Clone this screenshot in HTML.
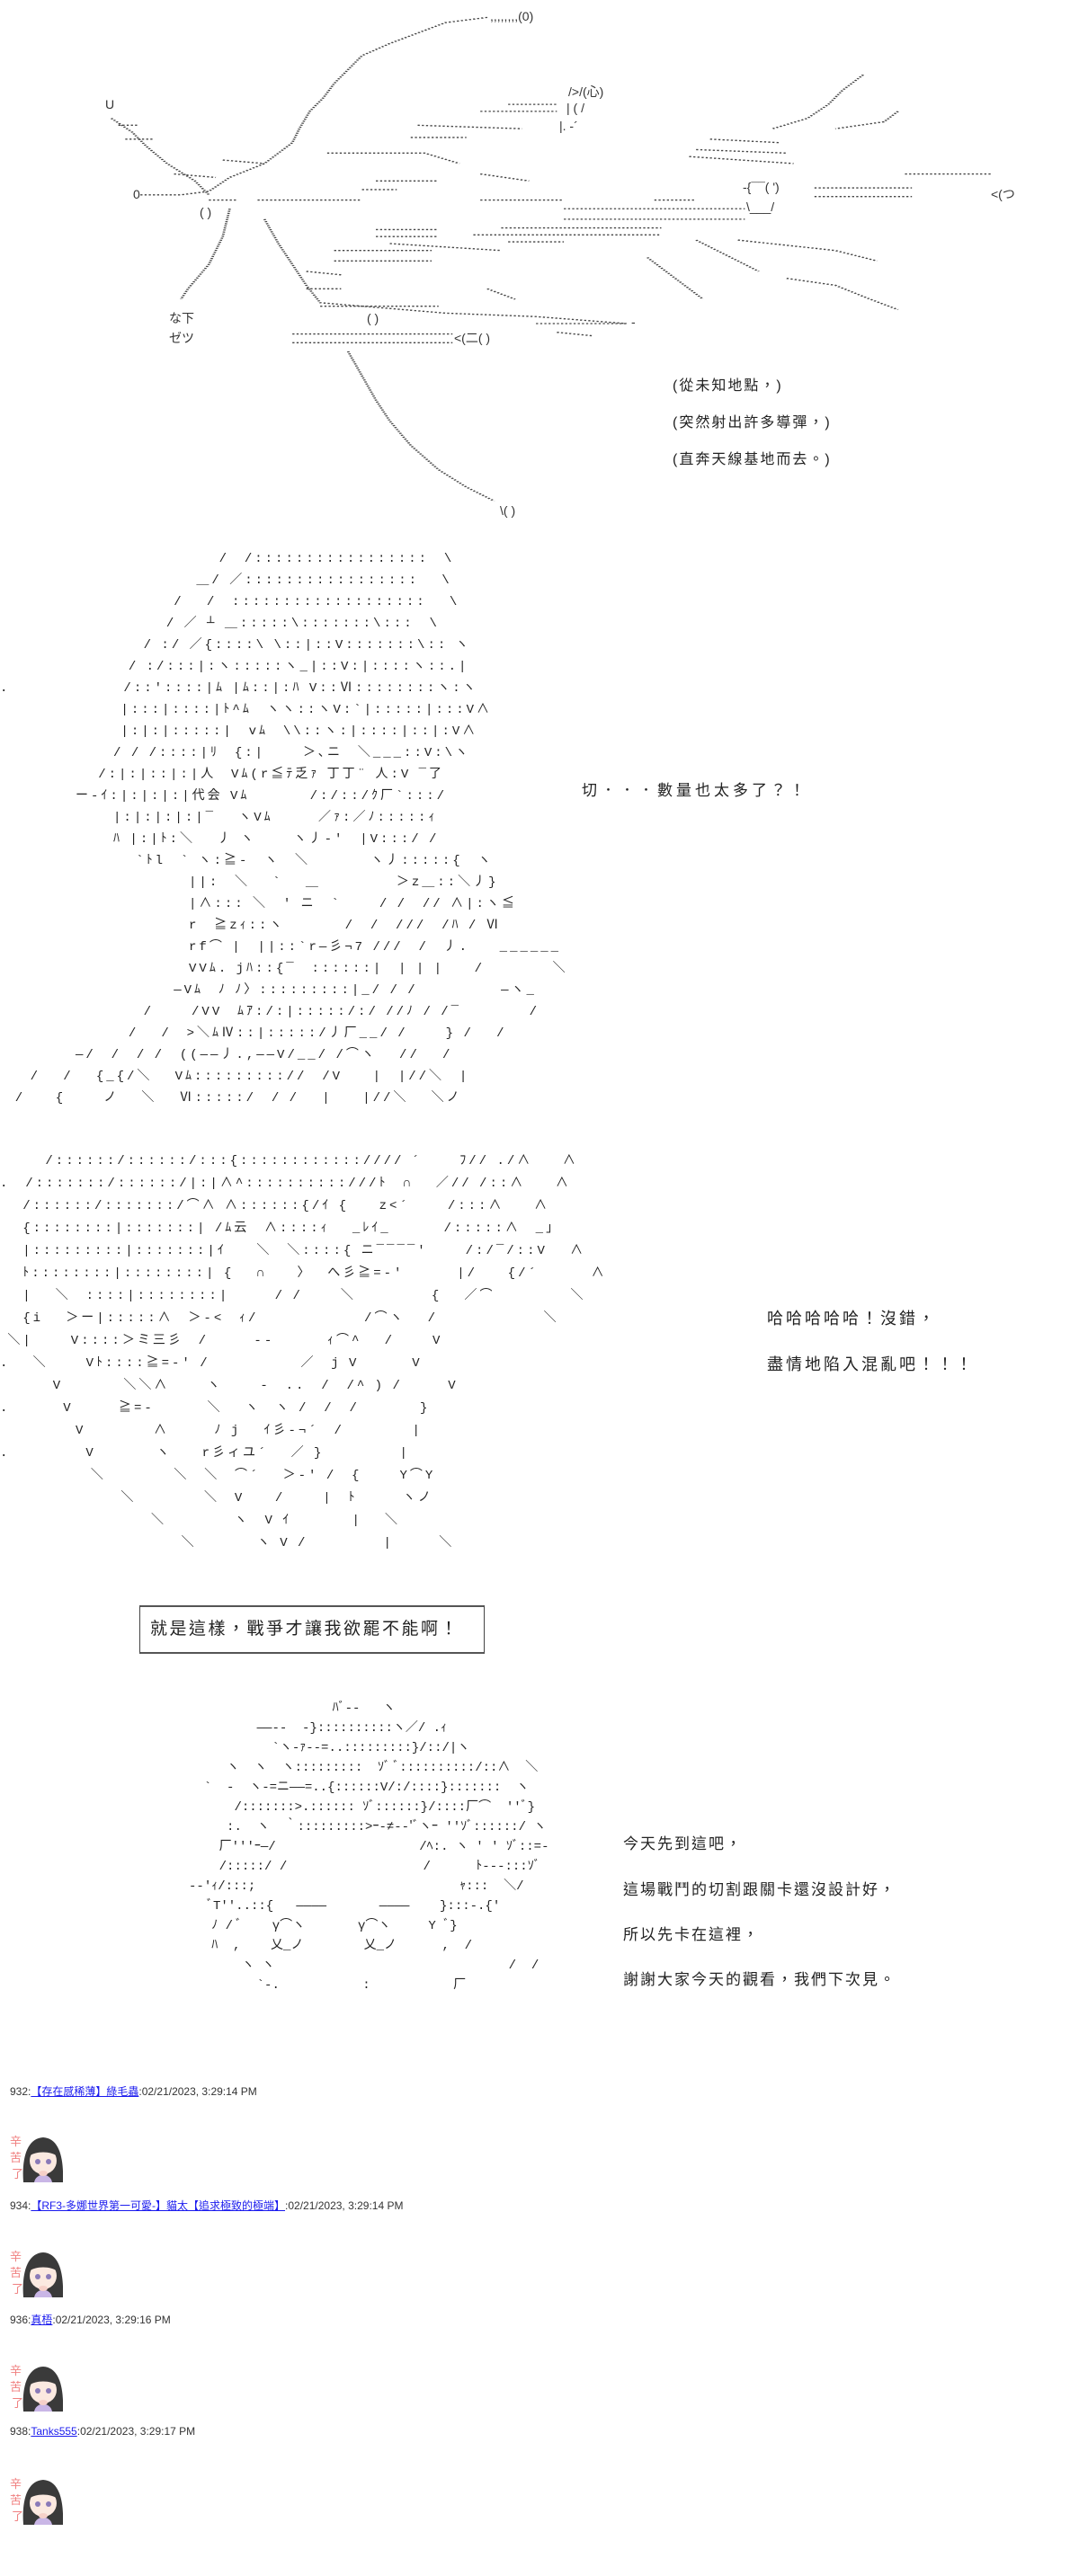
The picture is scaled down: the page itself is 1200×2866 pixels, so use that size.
<!DOCTYPE html>
<html><head><meta charset="utf-8">
<style>
html,body{margin:0;padding:0;background:#fff;}
body{width:1200px;height:2866px;position:relative;overflow:hidden;font-family:"Liberation Sans","Noto Sans CJK TC",sans-serif;color:#222;}
.t{position:absolute;font-size:18px;letter-spacing:2px;white-space:nowrap;line-height:1;}
.aa{position:absolute;white-space:pre;font-family:"Liberation Mono","Noto Sans CJK JP",monospace;font-size:14px;color:#222;margin:0;}
.wide{letter-spacing:3px;word-spacing:-3px;}
.s{position:absolute;font-size:14px;white-space:nowrap;font-family:"Liberation Sans","Noto Sans CJK JP",sans-serif;color:#333;}
.post{position:absolute;left:11px;font-size:12px;white-space:nowrap;color:#333;font-family:"Liberation Sans","Noto Sans CJK TC",sans-serif;}
.post a{color:#1a1aee;text-decoration:underline;}
.av{position:absolute;left:10px;width:60px;height:57px;}
</style></head><body>

<svg style="position:absolute;left:0;top:0" width="1200" height="600" viewBox="0 0 1550 1550" preserveAspectRatio="none">
<g fill="none" stroke="#444" stroke-width="3.5" stroke-dasharray="3 3">
<path d="M700,50 L640,65 L600,95 L560,125 L520,160 L500,200 L480,240 L465,280 L445,320 L430,370 L420,410 L380,470 L330,510 L300,550 L260,560 L200,560"/>
<path d="M160,340 L190,380 L210,420 L240,470 L280,520 L300,560"/>
<path d="M330,600 L320,680 L300,760 L270,830 L260,860"/>
<path d="M380,630 L400,700 L420,760 L440,820 L460,870 L520,880 L640,900 L770,910 L900,930"/>
<path d="M420,960 L650,960 M420,985 L650,985"/>
<path d="M810,600 L1070,600 M810,630 L1070,630 M720,655 L950,655 M680,675 L950,675 M730,695 L810,695"/>
<path d="M1170,565 L1310,565 M1300,500 L1425,500 M1170,540 L1310,540"/>
<path d="M500,1010 L520,1080 L540,1150 L560,1210 L590,1280 L630,1350 L670,1400 L710,1440"/>
<path d="M1240,215 L1210,260 L1190,300 L1160,340 L1110,370 M1290,320 L1270,350 L1200,370"/>
<path d="M1020,400 L1120,410 M990,450 L1140,470 M1000,430 L1130,440"/>
<path d="M600,360 L750,370 M690,320 L800,320 M730,300 L800,300 M590,395 L670,395"/>
<path d="M470,440 L610,440 L660,470 M540,520 L630,520 M520,545 L570,545"/>
<path d="M1000,690 L1050,740 L1090,780 M1060,690 L1200,720 L1260,750 M1130,800 L1200,820 L1250,860 L1290,890 M930,740 L970,800 L1010,860"/>
<path d="M480,720 L620,720 M480,750 L620,750 M560,700 L720,720 M540,660 L630,660 M540,680 L630,680"/>
<path d="M170,360 L200,360 M180,400 L220,400 M250,500 L310,510 M320,460 L380,470 M370,575 L520,575 M300,575 L340,575 M690,500 L760,520 M690,575 L810,575 M940,575 L1000,575"/>
<path d="M440,780 L490,790 M440,830 L490,830 M460,880 L630,880 M700,830 L740,860 M770,930 L900,930 M800,955 L850,965"/>
</g>
</svg>
<div class="s" style="left:545px;top:10px">,,,,,,,,(0)</div>
<div class="s" style="left:632px;top:92px">/>/(心)</div>
<div class="s" style="left:630px;top:112px">| (  /</div>
<div class="s" style="left:622px;top:132px">|. -´</div>
<div class="s" style="left:117px;top:108px">U</div>
<div class="s" style="left:148px;top:208px">0</div>
<div class="s" style="left:222px;top:228px">( )</div>
<div class="s" style="left:408px;top:346px">( )</div>
<div class="s" style="left:505px;top:366px">&lt;(二( )</div>
<div class="s" style="left:188px;top:344px">な下</div>
<div class="s" style="left:188px;top:366px">ゼツ</div>
<div class="s" style="left:1102px;top:206px">&lt;(つ</div>
<div class="s" style="left:826px;top:200px">-{¯¯( ')</div>
<div class="s" style="left:830px;top:222px">\___/</div>
<div class="s" style="left:556px;top:560px">\( )</div>
<div class="s" style="left:702px;top:350px">-</div>

<div class="t" style="left:748px;top:422px;font-size:16px">(從未知地點，)</div>
<div class="t" style="left:748px;top:463px;font-size:16px">(突然射出許多導彈，)</div>
<div class="t" style="left:748px;top:504px;font-size:16px">(直奔天線基地而去。)</div>

<pre class="aa wide" style="left:0;top:610px;line-height:24px">                             /  /:::::::::::::::::  \
                          ＿/ ／:::::::::::::::::   \
                       /   /  :::::::::::::::::::   \
                      / ／ ┴ ＿:::::\:::::::\:::  \
                   / :/ ／{::::\ \::|::V:::::::\:: ヽ
                 / :/:::|:ヽ:::::ヽ_|::V:|::::ヽ::.|
.               /::'::::|ﾑ |ﾑ::|:ﾊ V::Ⅵ::::::::ヽ:ヽ
                |:::|::::|ﾄ^ﾑ  ヽヽ::ヽV:`|:::::|:::V∧
                |:|:|:::::|  vﾑ  \\::ヽ:|::::|::|:V∧
               / / /::::|ﾘ  {:|     ＞､ニ  ＼___::V:\ヽ
             /:|:|::|:|人  Vﾑ(r≦ﾃ乏ｧ 丁丁¨ 人:V ¯了
          ー-ｲ:|:|:|:|代会 Vﾑ        /:/::/ｸ厂`:::/
               |:|:|:|:|¯   ヽVﾑ      ／ｧ:／ﾉ:::::ｨ
               ﾊ |:|ﾄ:＼   丿 ヽ     ヽ丿-'  |V:::/ /
                  `ﾄl  ` ヽ:≧-  ヽ  ＼        ヽ丿:::::{  ヽ
                         ||:  ＼   `   ＿          ＞z＿::＼丿}
                         |∧::: ＼  ' ニ  `     / /  // ∧|:ヽ≦
                         r  ≧zｨ::ヽ        /  /  ///  /ﾊ / Ⅵ
                         rf⌒ |  ||::`r―彡¬7 ///  /  丿.    ______
                         VVﾑ. jﾊ::{¯  ::::::|  | | |    /         ＼
                       ―Vﾑ  ﾉ ﾉ〉:::::::::|_/ / /           ―ヽ_
                   /     /VV  ﾑｱ:/:|:::::/:/ //ﾉ / /¯         /
                 /   /  >＼ﾑⅣ::|:::::/丿厂__/ /     } /   /
          ―/  /  / /  ((――丿.,――V/__/ /⌒ヽ   //   /
    /   /   {_{/＼   Vﾑ::::::::://  /V    |  |//＼  |
  /    {     ノ   ＼   Ⅵ:::::/  / /   |    |//＼   ＼ノ</pre>
<div class="t" style="left:647px;top:871px;font-size:17px;letter-spacing:4px">切．．．數量也太多了？！</div>

<pre class="aa wide" style="left:0;top:1280px;line-height:25px">      /::::::/::::::/:::{:::::::::::://// ´     ﾌ// ./∧    ∧
.  /:::::::/::::::/|:|∧^::::::::::///ﾄ  ∩   ／// /::∧    ∧
   /::::::/:::::::/⌒∧ ∧::::::{/ｲ {    z<´     /:::∧    ∧
   {::::::::|:::::::| /ﾑ云  ∧::::ｨ   _ﾚｲ_       /:::::∧  _」
   |:::::::::|:::::::|ｲ    ＼  ＼::::{ ニ¯¯¯¯'     /:/¯/::V   ∧
   ﾄ::::::::|::::::::| {   ∩    〉  へ彡≧=-'       |/    {/´       ∧
   |   ＼  ::::|::::::::|      / /     ＼          {   ／⌒          ＼
   {i   ＞ー|:::::∧  ＞-<  ｨ/              /⌒ヽ   /              ＼
 ＼|     V::::＞ミ三彡  /      --       ｨ⌒^   /     V
.   ＼     Vﾄ::::≧=-' /            ／  j V       V
       V        ＼＼∧     ヽ     -  ..  /  /^ ) /      V
.       V      ≧=-       ＼   ヽ  ヽ /  /  /        }
          V         ∧      ﾉ j   ｲ彡-¬´  /         |
.          V        ヽ    r彡ィユ´   ／ }          |
            ＼         ＼  ＼  ⌒´   ＞-' /  {     Y⌒Y
                ＼         ＼  V    /     |  ﾄ      ヽノ
                    ＼         ヽ  V ｲ        |   ＼
                        ＼        ヽ V /          |      ＼</pre>
<div class="t" style="left:853px;top:1458px;font-size:18px;letter-spacing:3px">哈哈哈哈哈！沒錯，</div>
<div class="t" style="left:853px;top:1509px;font-size:18px;letter-spacing:3px">盡情地陷入混亂吧！！！</div>

<div style="position:absolute;left:155px;top:1786px;width:382px;height:50px;border:1px solid #444;border-top:2px solid #555;border-bottom:2px solid #555;"></div>
<div class="t" style="left:167px;top:1803px;font-size:19px;letter-spacing:2.5px">就是這樣，戰爭才讓我欲罷不能啊！</div>

<pre class="aa" style="left:0;top:1890px;line-height:22px">                                            ﾊﾞ-‐   ヽ
                                  ――-‐  -}::::::::::ヽ／/ .ｨ
                                    `ヽ-ｧ--=..:::::::::}/::/|ヽ
                              ヽ  ヽ  ヽ:::::::::  ｿﾞ ﾞ::::::::::/::∧  ＼
                           `  -  ヽ-=ニ――=..{::::::V/:/::::}:::::::  ヽ
                               /:::::::>.:::::: ｿﾞ::::::}/::::厂⌒  ''ﾞ}
                              :.  ヽ  ｀:::::::::>ｰ-≠-‐'ﾞヽｰ ''ｿﾞ::::::/ ヽ
                             厂'''ｰ―/                   /ﾍ:. ヽ ' ' ｿﾞ::=-
                             /:::::/ /                  /      ﾄ---:::ｿﾞ
                         -‐'ｨ/:::;                           ｬ:::  ＼/
                            ﾞT''..::{   ――――       ――――    }:::-.{'
                            ﾉ / ﾞ    γ⌒ヽ       γ⌒ヽ     Y ﾞ}
                            ﾊ  ,    乂_ノ        乂_ノ      ,  /
                                ヽ ヽ                               /  /
                                  `-.           :           厂</pre>
<div class="t" style="left:693px;top:2043px;font-size:17px;letter-spacing:2px">今天先到這吧，</div>
<div class="t" style="left:693px;top:2094px;font-size:17px;letter-spacing:2px">這場戰鬥的切割跟關卡還沒設計好，</div>
<div class="t" style="left:693px;top:2144px;font-size:17px;letter-spacing:2px">所以先卡在這裡，</div>
<div class="t" style="left:693px;top:2194px;font-size:17px;letter-spacing:2px">謝謝大家今天的觀看，我們下次見。</div>

<div class="post" style="top:2318px">932:<a>【存在感稀薄】綠毛蟲</a>:02/21/2023, 3:29:14 PM</div>
<div class="post" style="top:2445px">934:<a>【RF3-多娜世界第一可愛-】貓太【追求極致的極端】</a>:02/21/2023, 3:29:14 PM</div>
<div class="post" style="top:2572px">936:<a>真梧</a>:02/21/2023, 3:29:16 PM</div>
<div class="post" style="top:2698px">938:<a>Tanks555</a>:02/21/2023, 3:29:17 PM</div>

<svg width="0" height="0" style="position:absolute">
<defs>
<g id="avt">
<text x="1" y="16" font-size="13" fill="#f08080" font-family="Noto Sans CJK TC">辛</text>
<text x="1" y="34" font-size="13" fill="#f08080" font-family="Noto Sans CJK TC">苦</text>
<text x="3" y="52" font-size="13" fill="#f08080" font-family="Noto Sans CJK TC">了</text>
<path d="M16,57 C14,30 20,8 38,7 C56,8 61,30 60,57 Z" fill="#3a3a3a"/>
<ellipse cx="38" cy="33" rx="15" ry="15" fill="#fbe9e0"/>
<path d="M22,28 C26,14 50,14 54,28 C46,22 30,22 22,28 Z" fill="#3a3a3a"/>
<circle cx="32" cy="34" r="3" fill="#8a7ab8"/><circle cx="44" cy="34" r="3" fill="#8a7ab8"/>
<path d="M28,57 C30,46 46,46 48,57 Z" fill="#c9b6e6"/>
<ellipse cx="38" cy="47" rx="5" ry="3" fill="#f6d0c8"/>
</g>
</defs>
</svg>
<svg class="av" style="top:2371px" viewBox="0 0 60 57"><use href="#avt"/></svg>
<svg class="av" style="top:2499px" viewBox="0 0 60 57"><use href="#avt"/></svg>
<svg class="av" style="top:2626px" viewBox="0 0 60 57"><use href="#avt"/></svg>
<svg class="av" style="top:2752px" viewBox="0 0 60 57"><use href="#avt"/></svg>

</body></html>
